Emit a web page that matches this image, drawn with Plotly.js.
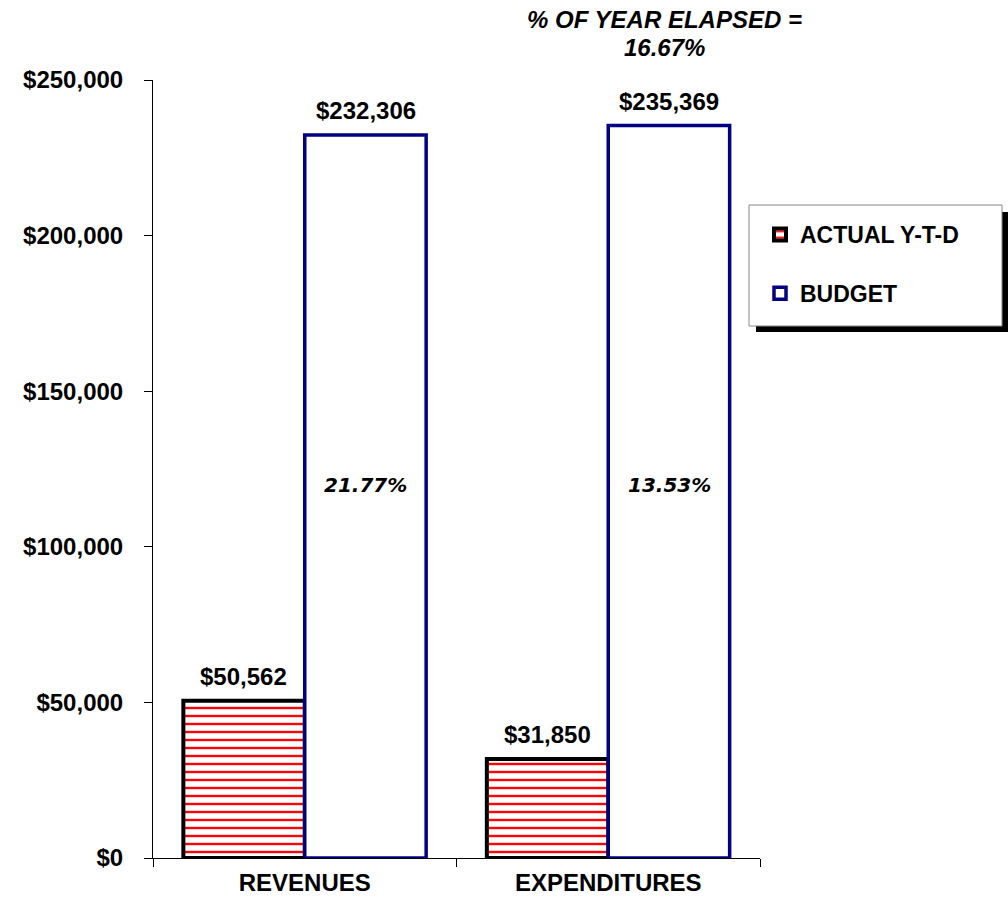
<!DOCTYPE html>
<html>
<head>
<meta charset="utf-8">
<script src="https://cdn.plot.ly/plotly-3.0.1.min.js"></script>
<style>html,body{margin:0;padding:0;background:#fff;}#chart{width:1008px;height:907px;}</style>
</head>
<body>
<div id="chart"></div>
<script>
const categories = ["REVENUES", "EXPENDITURES"];
const actualYTD = [50562, 31850];
const budget = [232306, 235369];
const seriesNames = ["ACTUAL Y-T-D", "BUDGET"];
const titleLines = ["% OF YEAR ELAPSED =", "16.67%"];
const yTicks = [0, 50000, 100000, 150000, 200000, 250000];

const FONT = "Liberation Sans, Arial, sans-serif";
const fmt = v => "$" + v.toLocaleString("en-US");

const traces = [
  {
    type: "bar", name: seriesNames[0], x: categories, y: actualYTD,
    marker: {color: "#fff", line: {color: "#000", width: 4},
      pattern: {shape: "-", fgcolor: "#ff0000", bgcolor: "#ffffff", size: 8, solidity: 0.3}},
    legendgroup: "a", hoverinfo: "y"
  },
  {
    type: "bar", name: seriesNames[1], x: categories, y: budget,
    marker: {color: "#fff", line: {color: "#000080", width: 3.5}},
    legendgroup: "b", hoverinfo: "y"
  }
];

const SHIFT = 61;
const labelAnn = [];
categories.forEach((c, i) => {
  labelAnn.push({x: c, y: actualYTD[i], xref: "x", yref: "y", xshift: -SHIFT, yshift: 9,
    yanchor: "bottom", showarrow: false, text: "<b>" + fmt(actualYTD[i]) + "</b>",
    font: {family: FONT, size: 24, color: "#000"}});
  labelAnn.push({x: c, y: budget[i], xref: "x", yref: "y", xshift: SHIFT, yshift: 9,
    yanchor: "bottom", showarrow: false, text: "<b>" + fmt(budget[i]) + "</b>",
    font: {family: FONT, size: 24, color: "#000"}});
  labelAnn.push({x: c, y: 120000, xref: "x", yref: "y", xshift: SHIFT, showarrow: false,
    text: "<b><i>" + (actualYTD[i] / budget[i] * 100).toFixed(2) + "%</i></b>",
    font: {family: "DejaVu Sans, Verdana, sans-serif", size: 20, color: "#000"}});
});

const px = p => (p - 153) / 607;
const py = p => (858 - p) / 778;

const titleAnn = titleLines.map((t, i) => ({
  xref: "paper", yref: "paper", x: px(664), y: py(i === 0 ? 20 : 47),
  xanchor: "center", yanchor: "middle", showarrow: false,
  text: "<b><i>" + t + "</i></b>",
  font: {family: FONT, size: 24, color: "#000"}
}));

const layout = {
  width: 1008, height: 907,
  margin: {l: 153, r: 248, t: 80, b: 49},
  paper_bgcolor: "#fff", plot_bgcolor: "#fff",
  barmode: "group", bargap: 0.2, bargroupgap: 0,
  font: {family: FONT, color: "#000"},
  xaxis: {
    type: "category", tickson: "boundaries", ticks: "outside", ticklen: 8, tickcolor: "#000",
    showline: true, linecolor: "#000", linewidth: 1, showgrid: false,
    tickfont: {family: FONT, size: 24, color: "#000", weight: "bold"}, ticklabelstandoff: 3
  },
  yaxis: {
    range: [0, 250000], tickvals: yTicks, ticktext: yTicks.map(fmt),
    ticks: "outside", ticklen: 8, tickcolor: "#000",
    showline: true, linecolor: "#000", linewidth: 1, showgrid: false, zeroline: false,
    tickfont: {family: FONT, size: 24, color: "#000", weight: "bold"}, ticklabelstandoff: 16
  },
  showlegend: true,
  legend: {
    x: px(760), xanchor: "left", y: py(213), yanchor: "top",
    bgcolor: "rgba(0,0,0,0)", borderwidth: 0,
    font: {family: FONT, size: 23, color: "#000", weight: "bold"},
    traceorder: "grouped", tracegroupgap: 26, itemwidth: 30
  },
  shapes: [
    {type: "rect", xref: "paper", yref: "paper", layer: "above",
      x0: px(756), x1: px(1008), y0: py(332), y1: py(212),
      fillcolor: "#000", line: {width: 0}},
    {type: "rect", xref: "paper", yref: "paper", layer: "above",
      x0: px(749), x1: px(1002), y0: py(326), y1: py(205),
      fillcolor: "#fff", line: {color: "#888", width: 1}}
  ],
  annotations: labelAnn.concat(titleAnn)
};

Plotly.newPlot("chart", traces, layout, {displayModeBar: false});
</script>
</body>
</html>
